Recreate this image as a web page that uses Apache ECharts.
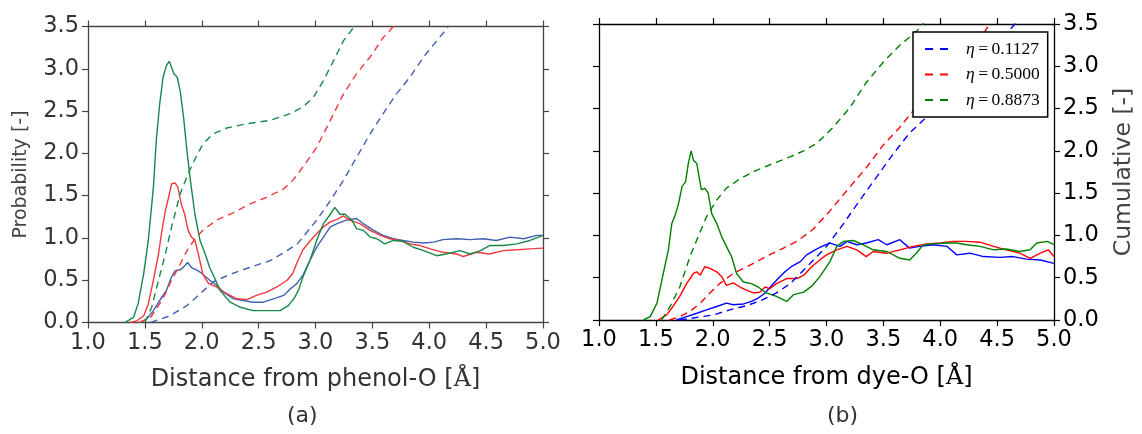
<!DOCTYPE html>
<html><head><meta charset="utf-8">
<script src="https://cdn.jsdelivr.net/npm/echarts@6/dist/echarts.min.js"></script>
<style>html,body{margin:0;padding:0;background:#fff}#c{width:1142px;height:434px}</style>
</head><body><div id="c"></div>
<script>
// ---------- data (x = distance in Å, y = value) ----------
const etaLabels = ['η=0.1127', 'η=0.5000', 'η=0.8873'];
const xTicks = [1.0, 1.5, 2.0, 2.5, 3.0, 3.5, 4.0, 4.5, 5.0];
const yTicks = [0.0, 0.5, 1.0, 1.5, 2.0, 2.5, 3.0, 3.5];

// panel (a): distance from phenol-O
const aPdfBlue = [[1.46,0],[1.515,0.04],[1.575,0.14],[1.63,0.26],[1.69,0.38],[1.735,0.54],[1.765,0.61],[1.82,0.63],[1.85,0.67],[1.875,0.71],[1.91,0.65],[1.97,0.61],[2.01,0.57],[2.07,0.50],[2.13,0.44],[2.19,0.36],[2.28,0.28],[2.365,0.26],[2.45,0.24],[2.54,0.24],[2.63,0.28],[2.72,0.32],[2.78,0.40],[2.835,0.46],[2.89,0.56],[2.95,0.73],[3.01,0.89],[3.07,1.01],[3.13,1.13],[3.19,1.17],[3.27,1.21],[3.36,1.23],[3.42,1.17],[3.51,1.09],[3.595,1.03],[3.685,0.99],[3.77,0.97],[3.86,0.95],[3.95,0.94],[4.04,0.95],[4.12,0.98],[4.24,0.99],[4.36,0.98],[4.475,0.99],[4.59,0.97],[4.71,1.01],[4.83,0.99],[4.945,1.03],[5.0,1.03]];
const aPdfRed = [[1.37,0],[1.43,0.02],[1.49,0.08],[1.53,0.22],[1.575,0.50],[1.62,0.81],[1.65,1.09],[1.68,1.32],[1.705,1.46],[1.72,1.48],[1.735,1.64],[1.765,1.65],[1.79,1.60],[1.82,1.40],[1.85,1.28],[1.88,1.09],[1.91,1.01],[1.94,0.97],[1.97,0.81],[2.01,0.57],[2.06,0.46],[2.13,0.42],[2.22,0.34],[2.31,0.28],[2.395,0.27],[2.48,0.32],[2.57,0.36],[2.66,0.42],[2.75,0.50],[2.80,0.58],[2.835,0.70],[2.89,0.86],[2.95,0.96],[3.01,1.05],[3.07,1.13],[3.13,1.19],[3.19,1.22],[3.245,1.26],[3.30,1.21],[3.39,1.17],[3.48,1.09],[3.57,1.03],[3.655,0.99],[3.74,0.97],[3.83,0.93],[3.92,0.91],[4.01,0.87],[4.12,0.83],[4.24,0.81],[4.30,0.78],[4.415,0.83],[4.53,0.81],[4.65,0.85],[4.77,0.86],[4.885,0.87],[5.0,0.88]];
const aPdfGreen = [[1.325,0],[1.40,0.06],[1.44,0.22],[1.49,0.58],[1.53,0.97],[1.575,1.60],[1.60,2.15],[1.63,2.58],[1.66,2.90],[1.69,3.04],[1.715,3.09],[1.73,3.07],[1.755,2.94],[1.785,2.90],[1.81,2.74],[1.84,2.43],[1.87,2.03],[1.90,1.68],[1.94,1.28],[1.985,0.97],[2.03,0.81],[2.07,0.65],[2.115,0.52],[2.16,0.38],[2.25,0.24],[2.34,0.18],[2.45,0.14],[2.60,0.14],[2.69,0.14],[2.76,0.20],[2.81,0.28],[2.85,0.38],[2.89,0.54],[2.95,0.73],[3.01,0.97],[3.07,1.17],[3.13,1.28],[3.17,1.36],[3.215,1.28],[3.26,1.28],[3.32,1.21],[3.36,1.11],[3.42,1.09],[3.48,1.01],[3.54,0.99],[3.61,0.93],[3.685,0.97],[3.77,0.96],[3.86,0.89],[3.95,0.85],[4.065,0.79],[4.15,0.81],[4.27,0.85],[4.36,0.81],[4.45,0.85],[4.53,0.91],[4.65,0.91],[4.77,0.93],[4.885,0.97],[5.0,1.03]];
const aCumBlue = [[1.55,0],[1.72,0.08],[1.87,0.20],[1.985,0.34],[2.10,0.48],[2.25,0.57],[2.42,0.65],[2.60,0.73],[2.75,0.85],[2.84,0.93],[2.89,1.01],[3.01,1.21],[3.13,1.44],[3.245,1.68],[3.36,1.95],[3.48,2.23],[3.595,2.47],[3.71,2.70],[3.83,2.90],[3.95,3.14],[4.065,3.33],[4.2,3.55]];
const aCumRed = [[1.45,0],[1.55,0.06],[1.62,0.20],[1.68,0.34],[1.72,0.46],[1.795,0.65],[1.87,0.85],[1.94,0.99],[2.01,1.09],[2.13,1.21],[2.28,1.30],[2.42,1.40],[2.57,1.48],[2.72,1.58],[2.80,1.68],[2.89,1.84],[3.01,2.07],[3.13,2.39],[3.245,2.70],[3.36,2.94],[3.48,3.14],[3.595,3.37],[3.72,3.55]];
const aCumGreen = [[1.50,0],[1.56,0.18],[1.62,0.50],[1.68,0.81],[1.735,1.13],[1.81,1.52],[1.88,1.76],[1.94,1.93],[2.01,2.11],[2.10,2.23],[2.22,2.30],[2.395,2.35],[2.60,2.39],[2.78,2.47],[2.89,2.55],[2.98,2.66],[3.07,2.86],[3.16,3.10],[3.245,3.33],[3.37,3.55]];

// panel (b): distance from dye-O
const bPdfBlue = [[1.68,0],[1.77,0.04],[1.86,0.08],[1.945,0.12],[2.035,0.16],[2.12,0.20],[2.18,0.18],[2.27,0.19],[2.34,0.22],[2.40,0.26],[2.46,0.32],[2.52,0.41],[2.575,0.49],[2.635,0.57],[2.69,0.63],[2.77,0.69],[2.825,0.77],[2.90,0.83],[2.96,0.87],[3.03,0.91],[3.12,0.87],[3.18,0.93],[3.265,0.89],[3.35,0.91],[3.455,0.95],[3.53,0.89],[3.645,0.95],[3.73,0.85],[3.82,0.87],[3.94,0.89],[4.06,0.87],[4.145,0.77],[4.26,0.79],[4.38,0.75],[4.525,0.74],[4.64,0.75],[4.76,0.72],[4.88,0.71],[5.0,0.67]];
const bPdfRed = [[1.52,0],[1.595,0.06],[1.65,0.16],[1.71,0.28],[1.77,0.43],[1.83,0.55],[1.86,0.57],[1.89,0.53],[1.93,0.63],[1.975,0.61],[2.035,0.57],[2.08,0.51],[2.12,0.41],[2.18,0.44],[2.24,0.39],[2.30,0.35],[2.36,0.32],[2.415,0.33],[2.46,0.39],[2.50,0.37],[2.56,0.43],[2.65,0.49],[2.74,0.49],[2.80,0.53],[2.87,0.63],[2.94,0.71],[3.0,0.77],[3.09,0.83],[3.18,0.87],[3.265,0.83],[3.35,0.75],[3.41,0.81],[3.53,0.79],[3.645,0.83],[3.76,0.87],[3.88,0.90],[4.0,0.91],[4.115,0.93],[4.23,0.93],[4.35,0.92],[4.47,0.87],[4.58,0.83],[4.70,0.79],[4.79,0.73],[4.88,0.79],[4.95,0.83],[5.0,0.75]];
const bPdfGreen = [[1.39,0],[1.45,0.04],[1.51,0.20],[1.565,0.55],[1.61,0.83],[1.64,1.14],[1.67,1.24],[1.70,1.38],[1.73,1.58],[1.76,1.63],[1.785,1.85],[1.81,2.00],[1.83,1.89],[1.86,1.85],[1.90,1.54],[1.93,1.56],[1.96,1.50],[1.99,1.26],[2.035,1.14],[2.08,0.98],[2.12,0.87],[2.165,0.75],[2.21,0.55],[2.27,0.45],[2.34,0.43],[2.40,0.39],[2.47,0.32],[2.56,0.28],[2.65,0.22],[2.71,0.30],[2.80,0.33],[2.87,0.40],[2.94,0.51],[3.03,0.69],[3.09,0.87],[3.15,0.93],[3.235,0.94],[3.32,0.89],[3.41,0.83],[3.53,0.81],[3.645,0.73],[3.73,0.71],[3.79,0.79],[3.85,0.89],[3.94,0.90],[4.06,0.91],[4.145,0.91],[4.23,0.89],[4.35,0.87],[4.47,0.83],[4.58,0.84],[4.70,0.81],[4.79,0.83],[4.85,0.91],[4.94,0.93],[5.0,0.89]];
const bCumBlue = [[1.71,0],[2.005,0.06],[2.15,0.12],[2.30,0.17],[2.44,0.24],[2.56,0.32],[2.68,0.43],[2.80,0.59],[2.915,0.75],[3.0,0.87],[3.15,1.14],[3.295,1.42],[3.44,1.69],[3.59,1.97],[3.73,2.21],[3.88,2.40],[3.94,2.44],[4.1,2.68],[4.3,2.97],[4.5,3.26],[4.69,3.55]];
const bCumRed = [[1.62,0],[1.71,0.04],[1.80,0.10],[1.89,0.20],[1.975,0.32],[2.06,0.43],[2.18,0.55],[2.30,0.63],[2.44,0.73],[2.59,0.83],[2.74,0.93],[2.88,1.07],[3.03,1.29],[3.21,1.58],[3.355,1.81],[3.50,2.07],[3.645,2.28],[3.79,2.52],[3.94,2.76],[4.085,2.95],[4.23,3.15],[4.38,3.39],[4.46,3.55]];
const bCumGreen = [[1.55,0],[1.625,0.16],[1.71,0.39],[1.80,0.75],[1.87,0.98],[1.945,1.22],[2.035,1.42],[2.12,1.56],[2.24,1.67],[2.385,1.77],[2.53,1.85],[2.68,1.93],[2.80,2.00],[2.915,2.09],[3.06,2.28],[3.21,2.52],[3.345,2.80],[3.50,3.05],[3.645,3.25],[3.79,3.41],[3.88,3.55]];

// ---------- chart ----------
const leftGrid = {left: 88, top: 26.5, width: 455, height: 296};
const rightGrid = {left: 599, top: 24, width: 455, height: 296};
const colA = {blue: '#4060b0', red: '#f03a3e', green: '#17884a'};
const colB = {blue: '#0000ff', red: '#ff0000', green: '#008000'};
const FONT = 'DejaVu Sans';
const TICK_FS = 22.5;

function xAx(grid, pos, showLabel, color, labelColor, name, nameGap) {
  return {
    type: 'value', gridIndex: grid, position: pos, min: xTicks[0], max: xTicks[xTicks.length-1], interval: 0.5,
    axisLine: {show: true, onZero: false, lineStyle: {color: color, width: 1.3}},
    axisTick: {show: true, inside: false, length: 6, lineStyle: {color: color, width: 1.2}},
    axisLabel: {show: showLabel, margin: 9, color: labelColor, fontFamily: FONT, fontSize: TICK_FS,
      formatter: v => v.toFixed(1)},
    splitLine: {show: false},
    name: name || '', nameLocation: 'middle', nameGap: nameGap || 0,
    nameTextStyle: {fontFamily: FONT, fontSize: 24, color: labelColor,
      rich: {s: {fontFamily: 'DejaVu Serif', fontSize: 24, color: labelColor}}}
  };
}
function yAx(grid, pos, showLabel, color, labelColor, name, nameGap, nameColor, nameSize) {
  return {
    type: 'value', gridIndex: grid, position: pos, min: yTicks[0], max: yTicks[yTicks.length-1], interval: 0.5,
    axisLine: {show: true, onZero: false, lineStyle: {color: color, width: 1.3}},
    axisTick: {show: true, inside: false, length: 6, lineStyle: {color: color, width: 1.2}},
    axisLabel: {show: showLabel, margin: 9, color: labelColor, fontFamily: FONT, fontSize: TICK_FS,
      formatter: v => v.toFixed(1)},
    splitLine: {show: false},
    name: name || '', nameLocation: 'middle', nameGap: nameGap || 0, nameRotate: 90,
    nameTextStyle: {fontFamily: FONT, fontSize: nameSize || 20, color: nameColor}
  };
}

function line(name, data, xi, yi, color, dashed) {
  return {
    name: name, type: 'line', xAxisIndex: xi, yAxisIndex: yi, data: data,
    showSymbol: false, symbol: 'none', smooth: false, clip: true, z: dashed ? 3 : 2,
    lineStyle: {color: color, width: 1.4, type: dashed ? [7, 5] : 'solid'},
    itemStyle: {color: color}, emphasis: {disabled: true}
  };
}

const chart = echarts.init(document.getElementById('c'), null, {renderer: 'canvas'});
chart.setOption({
  animation: false,
  backgroundColor: '#fff',
  grid: [leftGrid, rightGrid],
  xAxis: [
    xAx(0, 'bottom', true, '#444', '#333', 'Distance from phenol-O [{s|Å}]', 45),
    xAx(0, 'top', false, '#444', '#333'),
    xAx(1, 'bottom', true, '#000', '#000', 'Distance from dye-O [{s|Å}]', 46),
    xAx(1, 'top', false, '#000', '#000')
  ],
  yAxis: [
    yAx(0, 'left', true, '#444', '#333', 'Probability [-]', 57, '#444', 19),
    yAx(0, 'right', false, '#444', '#333'),
    yAx(1, 'left', false, '#000', '#000'),
    yAx(1, 'right', true, '#000', '#000', 'Cumulative [-]', 58, '#444', 23.5)
  ],
  legend: {
    data: etaLabels, orient: 'vertical', left: 913, top: 32, selectedMode: false,
    backgroundColor: '#fff', borderColor: '#000', borderWidth: 1.5, borderRadius: 0,
    padding: [8, 8, 8, 12], itemGap: 7.5, itemWidth: 23, itemHeight: 2,
    icon: 'path://M0,0H8V2H0Z M15,0H23V2H15Z',
    textStyle: {fontFamily: 'Liberation Serif', fontSize: 17, color: '#000', lineHeight: 17,
      rich: {
        e: {fontFamily: 'Liberation Serif', fontStyle: 'italic', fontSize: 17.5, color: '#000', padding: [0, 0, 0, 13]},
        t: {fontFamily: 'Liberation Serif', fontSize: 17.5, color: '#000'}
      }},
    formatter: n => '{e|η}{t|\u2009=\u2009' + n.split('=')[1] + '}'
  },
  graphic: [
    {type: 'text', left: 287, top: 405, style: {text: '(a)', font: '22px "DejaVu Sans"', fill: '#333'}},
    {type: 'text', left: 827, top: 405, style: {text: '(b)', font: '22px "DejaVu Sans"', fill: '#333'}}
  ],
  series: [
    line('b-cum-1', bCumBlue, 2, 2, colB.blue, true),
    line('b-cum-2', bCumRed, 2, 2, colB.red, true),
    line('b-cum-3', bCumGreen, 2, 2, colB.green, true),
    line(etaLabels[0], [], 2, 2, colB.blue, true),
    line(etaLabels[1], [], 2, 2, colB.red, true),
    line(etaLabels[2], [], 2, 2, colB.green, true),
    line('b-pdf-1', bPdfBlue, 2, 2, colB.blue, false),
    line('b-pdf-2', bPdfRed, 2, 2, colB.red, false),
    line('b-pdf-3', bPdfGreen, 2, 2, colB.green, false),
    line('a-cum-1', aCumBlue, 0, 0, colA.blue, true),
    line('a-cum-2', aCumRed, 0, 0, colA.red, true),
    line('a-cum-3', aCumGreen, 0, 0, colA.green, true),
    line('a-pdf-1', aPdfBlue, 0, 0, colA.blue, false),
    line('a-pdf-2', aPdfRed, 0, 0, colA.red, false),
    line('a-pdf-3', aPdfGreen, 0, 0, colA.green, false)
  ]
});
</script></body></html>
